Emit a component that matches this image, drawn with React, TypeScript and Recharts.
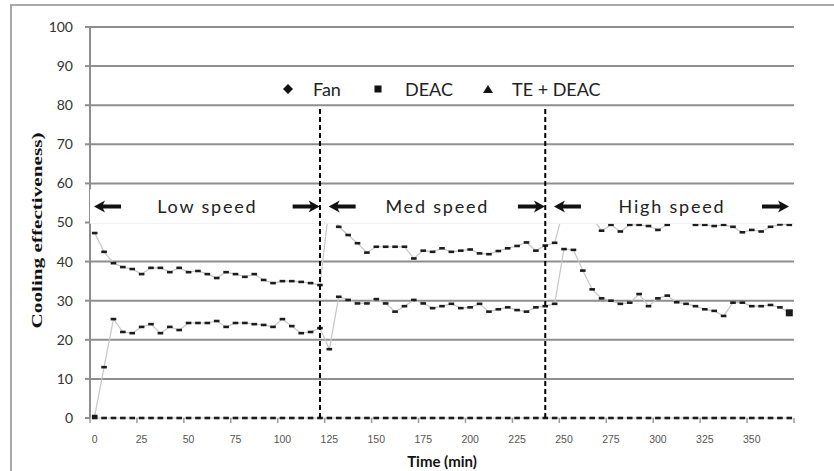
import React from 'react';
import { LineChart, Line, XAxis, YAxis, CartesianGrid, ReferenceArea, ReferenceLine, Legend } from 'recharts';

const times = [
  0, 5, 10, 15, 20, 25, 30, 35, 40, 45, 50, 55, 60, 65, 70, 75, 80, 85, 90, 95, 100, 105, 110, 115, 120,
  125, 130, 135, 140, 145, 150, 155, 160, 165, 170, 175, 180, 185, 190, 195, 200, 205, 210, 215, 220, 225, 230, 235, 240, 245,
  250, 255, 260, 265, 270, 275, 280, 285, 290, 295, 300, 305, 310, 315, 320, 325, 330, 335, 340, 345, 350, 355, 360, 365, 370,
];

const fanValues = [
  0, 0, 0, 0, 0, 0, 0, 0, 0, 0, 0, 0, 0, 0, 0, 0, 0, 0, 0, 0, 0, 0, 0, 0, 0,
  0, 0, 0, 0, 0, 0, 0, 0, 0, 0, 0, 0, 0, 0, 0, 0, 0, 0, 0, 0, 0, 0, 0, 0, 0,
  0, 0, 0, 0, 0, 0, 0, 0, 0, 0, 0, 0, 0, 0, 0, 0, 0, 0, 0, 0, 0, 0, 0, 0, 0,
];

const deacValues = [
  0.5, 13, 25.3, 22, 21.7, 23.3, 24, 21.7, 23.3, 22.5, 24.3, 24.3, 24.3, 24.8, 23.3, 24.3, 24.3, 24, 23.8, 23.3, 25.3, 23.5, 21.7, 22, 23,
  17.6, 31, 30.2, 29.3, 29.3, 30.4, 29.3, 27.2, 28.6, 30.2, 29.3, 28.1, 28.6, 29.2, 28.1, 28.3, 29.2, 27.2, 27.8, 28.3, 27.6, 27.2, 28.3, 28.6, 29.2,
  43.2, 43, 37.7, 32.9, 30.6, 30, 29.2, 29.5, 31.7, 28.6, 30.6, 31.3, 29.6, 29.2, 28.6, 27.8, 27.4, 26.1, 29.5, 29.5, 28.6, 28.6, 28.9, 28.3, 26.9,
];

const teDeacValues = [
  47.3, 42.5, 39.6, 38.6, 38.1, 36.8, 38.4, 38.4, 37.3, 38.4, 37.3, 37.6, 36.8, 35.8, 37.3, 36.8, 36.1, 36.8, 35.3, 34.5, 35, 35, 34.8, 34.5, 34,
  54.5, 48.9, 46.8, 44.7, 42.3, 43.8, 43.8, 43.8, 43.8, 40.8, 42.8, 42.5, 43.4, 42.5, 42.8, 43.1, 42.1, 41.9, 42.7, 43.4, 44, 44.9, 42.8, 44.1, 44.8,
  53.7, 53, 52, 51.2, 47.9, 49.4, 47.7, 49.4, 49.4, 49.1, 48.1, 49.4, 50.6, 50.2, 49.4, 49.4, 49.1, 49.4, 48.9, 47.5, 48.1, 47.7, 48.9, 49.5, 49.4,
];

const yTicks = [0, 10, 20, 30, 40, 50, 60, 70, 80, 90, 100];
const gridValues = [10, 20, 30, 40, 50, 60, 70, 80, 90, 100];
const lastLabeledTime = 350;

const speedSections = [
  { label: 'Low speed', from: 0, to: 120 },
  { label: 'Med speed', from: 125, to: 240 },
  { label: 'High speed', from: 245, to: 370 },
];
const switchTimes = [120, 240];
const labelBand = { low: 49.7, high: 58.5 };
const switchLineTop = 79;

const legendItems = [
  { name: 'Fan', shape: 'diamond', markerX: 10, textX: 35 },
  { name: 'DEAC', shape: 'square', markerX: 100, textX: 127 },
  { name: 'TE + DEAC', shape: 'triangle', markerX: 210, textX: 234 },
];

const data = times.map((t, i) => ({ t, fan: fanValues[i], deac: deacValues[i], te: teDeacValues[i] }));

const W = 834;
const H = 471;
const MARGIN = { top: 27, right: 40, bottom: 0, left: 10 };
const X_AXIS_H = 53;
const Y_AXIS_W = 80;

const MARK = '#1c1c1c';
const LINE = '#c6c6c6';
const GRID = '#8e8e8e';

const dashDot = (props: any) => {
  const { cx, cy, index } = props;
  if (cx == null || cy == null) return <g key={`d${index}`} />;
  return <rect key={`d${index}`} x={cx - 2.8} y={cy - 1.3} width={5.6} height={2.6} fill={MARK} />;
};

const deacDot = (props: any) => {
  const { cx, cy, index } = props;
  if (cx == null || cy == null) return <g key={`e${index}`} />;
  if (index === deacValues.length - 1) {
    return <rect key={`e${index}`} x={cx - 3.5} y={cy - 3.5} width={7} height={7} fill={MARK} />;
  }
  return <rect key={`e${index}`} x={cx - 2.8} y={cy - 1.3} width={5.6} height={2.6} fill={MARK} />;
};

const leftArrow = (x: number, y: number) =>
  `M${x},${y} L${x + 11},${y - 6} L${x + 9},${y - 2} L${x + 27},${y - 2} L${x + 27},${y + 2} L${x + 9},${y + 2} L${x + 11},${y + 6} Z`;
const rightArrow = (x: number, y: number) =>
  `M${x},${y} L${x - 11},${y - 6} L${x - 9},${y - 2} L${x - 27},${y - 2} L${x - 27},${y + 2} L${x - 9},${y + 2} L${x - 11},${y + 6} Z`;

const SpeedLabel = (props: any) => {
  const { viewBox, text } = props;
  if (!viewBox) return null;
  const { x, y, width, height } = viewBox;
  const cy = y + height / 2;
  return (
    <g>
      <path d={leftArrow(x + 4, cy)} fill="#111" />
      <path d={rightArrow(x + width - 5, cy)} fill="#111" />
      <text
        x={x + width / 2}
        y={cy}
        textAnchor="middle"
        dominantBaseline="central"
        fontFamily="Lato, 'Open Sans', sans-serif"
        fontSize={18}
        letterSpacing={1.8}
        fill="#222"
      >
        {text}
      </text>
    </g>
  );
};

const XTick = (props: any) => {
  const { x, y, payload } = props;
  const off = payload && payload.offset != null ? payload.offset : 4.7;
  const axisY = y - 18;
  const isLast = payload.value === lastLabeledTime;
  return (
    <g>
      <line x1={x - off} x2={x - off} y1={axisY} y2={axisY + 5} stroke="#9a9a9a" strokeWidth={1.5} />
      {isLast && (
        <line x1={x + 9 * off} x2={x + 9 * off} y1={axisY} y2={axisY + 5} stroke="#9a9a9a" strokeWidth={1.5} />
      )}
      <text x={x} y={y} dy="0.71em" textAnchor="middle" fontFamily="'Liberation Sans', Arial, sans-serif" fontSize={10.5} fill="#555">
        {payload.value}
      </text>
    </g>
  );
};

const YTitle = (props: any) => {
  const { viewBox } = props;
  if (!viewBox) return null;
  const cx = viewBox.x + 27;
  const cy = viewBox.y + viewBox.height / 2 + 8;
  return (
    <text
      x={cx}
      y={cy}
      transform={`rotate(-90 ${cx} ${cy})`}
      textAnchor="middle"
      dominantBaseline="central"
      fontFamily="'Liberation Serif', 'Times New Roman', serif"
      fontWeight="bold"
      fontSize={15}
      textLength={196}
      lengthAdjust="spacingAndGlyphs"
      fill="#111"
    >
      Cooling effectiveness)
    </text>
  );
};

const XTitle = (props: any) => {
  const { viewBox } = props;
  if (!viewBox) return null;
  return (
    <text
      x={viewBox.x + viewBox.width / 2}
      y={viewBox.y + 43}
      textAnchor="middle"
      dominantBaseline="central"
      fontFamily="Lato, 'Open Sans', sans-serif"
      fontWeight="bold"
      fontSize={15}
      fill="#111"
    >
      Time (min)
    </text>
  );
};

const LegendMarker = ({ shape }: { shape: string }) => {
  if (shape === 'diamond') return <path d="M5,0 L10,5 L5,10 L0,5 Z" fill="#111" />;
  if (shape === 'square') return <rect x={1.5} y={1.5} width={7} height={7} fill="#111" />;
  return <path d="M5,1 L10,9 L0,9 Z" fill="#111" />;
};

const LegendBox = () => (
  <div style={{ position: 'relative', width: 340, height: 26 }}>
    {legendItems.map((it) => (
      <React.Fragment key={it.name}>
        <svg width={10} height={10} style={{ position: 'absolute', left: it.markerX - 5, top: 8 }}>
          <LegendMarker shape={it.shape} />
        </svg>
        <span
          style={{
            position: 'absolute',
            left: it.textX,
            top: 0,
            lineHeight: '26px',
            fontFamily: "Lato, 'Open Sans', sans-serif",
            fontSize: 18,
            color: '#222',
            whiteSpace: 'nowrap',
          }}
        >
          {it.name}
        </span>
      </React.Fragment>
    ))}
  </div>
);

export default function App() {
  return (
    <div style={{ position: 'absolute', left: 0, top: 0, width: W, height: H, background: '#fff' }}>
      <div
        style={{
          position: 'absolute',
          left: 10,
          top: 4,
          width: 830,
          height: 470,
          borderLeft: '2px solid #a8a8a8',
          borderTop: '2px solid #a8a8a8',
        }}
      />
      {/* main chart: grid, axes, series */}
      <div style={{ position: 'absolute', left: 0, top: 0 }}>
        <LineChart width={W} height={H} data={data} margin={MARGIN}>
          <CartesianGrid vertical={false} horizontalValues={gridValues} stroke={GRID} strokeWidth={2} />
          <XAxis
            dataKey="t"
            type="category"
            scale="band"
            interval={4}
            height={X_AXIS_H}
            axisLine={false}
            tickLine={false}
            tickSize={6}
            tickMargin={12}
            tick={<XTick />}
            label={<XTitle />}
          />
          <YAxis
            type="number"
            domain={[0, 100]}
            ticks={yTicks}
            width={Y_AXIS_W}
            interval={0}
            axisLine={{ stroke: GRID, strokeWidth: 2 }}
            tickLine={{ stroke: GRID, strokeWidth: 2 }}
            tickSize={5}
            tickMargin={12}
            tick={{ fontFamily: "Lato, 'Open Sans', sans-serif", fontSize: 14, fill: '#333' }}
            label={<YTitle />}
          />
          <Legend
            layout="vertical"
            align="center"
            verticalAlign="middle"
            wrapperStyle={{ top: 76, left: 278, width: 340, height: 26 }}
            content={() => <LegendBox />}
          />
          <Line dataKey="fan" name="Fan" type="linear" stroke={LINE} strokeWidth={1.2} dot={dashDot} activeDot={false} isAnimationActive={false} />
          <Line dataKey="deac" name="DEAC" type="linear" stroke={LINE} strokeWidth={1.2} dot={deacDot} activeDot={false} isAnimationActive={false} />
          <Line dataKey="te" name="TE + DEAC" type="linear" stroke={LINE} strokeWidth={1.2} dot={dashDot} activeDot={false} isAnimationActive={false} />
        </LineChart>
      </div>
      {/* overlay chart (same scales): speed annotations with white boxes, and switch lines on top */}
      <div style={{ position: 'absolute', left: 0, top: 0, pointerEvents: 'none' }}>
        <LineChart
          width={W}
          height={H}
          data={data}
          margin={{ top: MARGIN.top, right: MARGIN.right, bottom: MARGIN.bottom, left: MARGIN.left }}
        >
          <XAxis dataKey="t" type="category" scale="band" height={X_AXIS_H} axisLine={false} tickLine={false} tick={false} />
          <YAxis type="number" domain={[0, 100]} ticks={yTicks} width={Y_AXIS_W} axisLine={false} tickLine={false} tick={false} />
          <Line dataKey="fan" stroke="none" dot={false} activeDot={false} legendType="none" isAnimationActive={false} />
          {speedSections.map((s) => (
            <ReferenceArea
              key={s.label}
              x1={s.from}
              x2={s.to}
              y1={labelBand.low}
              y2={labelBand.high}
              fill="#fff"
              fillOpacity={1}
              stroke="none"
              ifOverflow="visible"
              label={<SpeedLabel text={s.label} />}
            />
          ))}
          {switchTimes.map((t) => (
            <ReferenceLine
              key={t}
              segment={[{ x: t, y: 0 }, { x: t, y: switchLineTop }]}
              stroke="#000"
              strokeWidth={2}
              strokeDasharray="5 3"
            />
          ))}
        </LineChart>
      </div>
    </div>
  );
}
